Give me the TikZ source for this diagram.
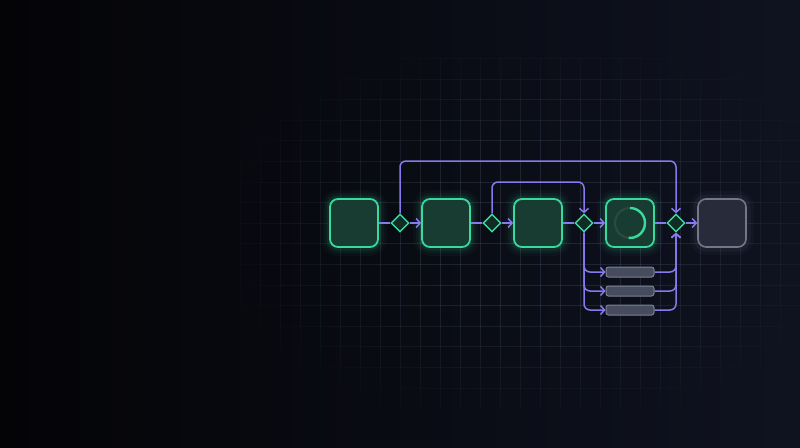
\documentclass[tikz,border=0pt]{standalone}
\usepackage{tikz}
\usetikzlibrary{shapes.geometric,arrows.meta}

\definecolor{bgleft}{RGB}{4,4,7}
\definecolor{bgright}{RGB}{15,19,32}
\definecolor{gridc}{RGB}{115,125,155}
\definecolor{mint}{RGB}{56,218,158}
\definecolor{mintfill}{RGB}{24,60,49}
\definecolor{gatefill}{RGB}{17,44,37}
\definecolor{ringbg}{RGB}{44,72,63}
\definecolor{flowc}{RGB}{134,122,238}
\definecolor{idleline}{RGB}{112,120,138}
\definecolor{idlefill}{RGB}{40,44,58}
\definecolor{idleglow}{RGB}{190,198,215}
\definecolor{barline}{RGB}{122,130,148}
\definecolor{barfill}{RGB}{70,76,94}

\tikzstyle{task}=[
    draw = mint,
    line width = 1.8pt,
    fill = mintfill,
    rounded corners = 8pt,
    minimum size = 48pt,
    inner sep = 0pt,
    preaction = {draw = mint, line width = 18pt, opacity = 0.035},
    preaction = {draw = mint, line width = 12pt, opacity = 0.05},
    preaction = {draw = mint, line width = 7pt, opacity = 0.09}
]
\tikzstyle{idle task}=[
    draw = idleline,
    line width = 1.6pt,
    fill = idlefill,
    rounded corners = 8pt,
    minimum size = 48pt,
    inner sep = 0pt,
    preaction = {draw = idleglow, line width = 16pt, opacity = 0.03},
    preaction = {draw = idleglow, line width = 9pt, opacity = 0.05}
]
\tikzstyle{gate}=[
    diamond,
    draw = mint,
    line width = 1.4pt,
    fill = gatefill,
    minimum size = 18pt,
    inner sep = 0pt
]
\tikzstyle{subtask}=[
    draw = barline,
    fill = barfill,
    line width = 1pt,
    rounded corners = 2.5pt,
    minimum width = 48pt,
    minimum height = 10pt,
    inner sep = 0pt
]

\begin{document}
\begin{tikzpicture}[x=1pt, y=1pt, node distance={46pt},
    flow/.style = {draw = flowc, line width = 1.5pt, rounded corners = 6pt},
    arr/.style = {-{Straight Barb[length=4pt, width=9pt]}}]
        \useasboundingbox (0,0) rectangle (800,-447);
        \shade[left color = bgleft, right color = bgright] (0,0) rectangle (800,-447);

        % faded grid
        \foreach \gx in {240,260,...,800} {
            \foreach \k in {-8,...,8} {
                \pgfmathsetmacro\gy{223+20.6*\k}
                \pgfmathsetmacro\op{0.2*max(0,min(1,1.6*(1-sqrt(((\gx+10-540)/330)^2+((\gy-225)/200)^2))))}
                \draw[gridc, line width = 0.6pt, opacity = \op] (\gx,-\gy) -- ++(0,-20.6);
                \draw[gridc, line width = 0.6pt, opacity = \op] (\gx,-\gy) -- ++(20,0);
            }
        }

        \node[task] (a) at (354,-223) {};
        \node[gate] (g1) [right of = a] {};
        \node[task] (b) [right of = g1] {};
        \node[gate] (g2) [right of = b] {};
        \node[task] (c) [right of = g2] {};
        \node[gate] (g3) [right of = c] {};
        \node[task] (d) [right of = g3] {};
        \node[gate] (g4) [right of = d] {};
        \node[idle task] (e) [right of = g4] {};

        \node[subtask] (s1) at (630,-272) {};
        \node[subtask] (s2) [below of = s1, node distance = 19pt] {};
        \node[subtask] (s3) [below of = s2, node distance = 19pt] {};

        \coordinate (top1) at (538,-161);
        \coordinate (top2) at (538,-182);

        % progress ring
        \draw[ringbg, line width = 2.2pt] (d.center) circle (15pt);
        \draw[mint, line width = 2.4pt] ([yshift=15pt]d.center) arc[start angle = 90, end angle = -95, radius = 15pt];

        \draw[flow] (a) -- (g1);
        \draw[flow, arr] (g1) -- (b);
        \draw[flow] (b) -- (g2);
        \draw[flow, arr] (g2) -- (c);
        \draw[flow] (c) -- (g3);
        \draw[flow, arr] (g3) -- (d);
        \draw[flow] (d) -- (g4);
        \draw[flow, arr] (g4) -- (e);

        \draw[flow, arr] (g1.north) |- (top1) -| (g4.north);
        \draw[flow, arr] (g2.north) |- (top2) -| (g3.north);

        \draw[flow, arr] (g3.south) |- (s1.west);
        \draw[flow, arr] (g3.south) |- (s2.west);
        \draw[flow, arr] (g3.south) |- (s3.west);
        \draw[flow, arr] (s1.east) -| (g4.south);
        \draw[flow, arr] (s2.east) -| (g4.south);
        \draw[flow, arr] (s3.east) -| (g4.south);

    \end{tikzpicture}
\end{document}
